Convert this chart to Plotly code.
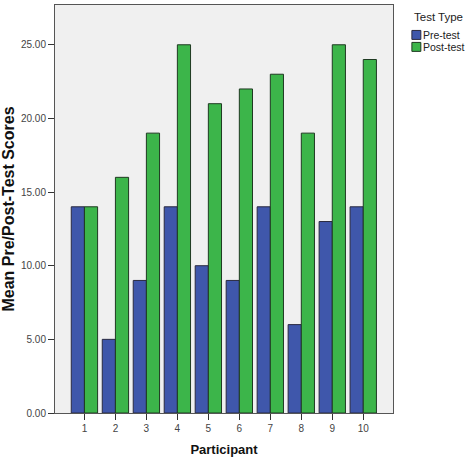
import plotly.graph_objects as go

participants = [1, 2, 3, 4, 5, 6, 7, 8, 9, 10]
pre_test = [14, 5, 9, 14, 10, 9, 14, 6, 13, 14]
post_test = [14, 16, 19, 25, 21, 22, 23, 19, 25, 24]
y_ticks = [0, 5, 10, 15, 20, 25]
series_names = ["Pre-test", "Post-test"]
series_colors = ["#3f57ab", "#3cb54a"]
outline_colors = ["#2a2a40", "#1f3a22"]
legend_title = "Test Type"

W, H = 470, 469
ML, MR, MT, MB = 53, 77, 4, 56
PW, PH = W - ML - MR, H - MT - MB

def px_x(px):
    return (px - ML) / PW

def px_y(py):
    return (H - MB - py) / PH

fig = go.Figure()
for name, vals, col, ocol in zip(series_names, [pre_test, post_test], series_colors, outline_colors):
    fig.add_trace(go.Bar(x=participants, y=vals, name=name,
                         marker=dict(color=col, line=dict(color=ocol, width=1))))

# legend drawn as swatches + text (SPSS style compact legend)
annotations = [dict(text=legend_title, x=px_x(412), y=px_y(16), xref="paper", yref="paper",
                    xanchor="left", yanchor="middle", showarrow=False,
                    font=dict(size=11.5, color="#222"))]
shapes = []
for i, (name, col, ocol) in enumerate(zip(series_names, series_colors, outline_colors)):
    cy = 34 + 12 * i
    shapes.append(dict(type="rect", xref="paper", yref="paper",
                       x0=px_x(412), x1=px_x(421), y0=px_y(cy - 4.5), y1=px_y(cy + 4.5),
                       fillcolor=col, line=dict(color=ocol, width=1)))
    annotations.append(dict(text=name, x=px_x(421.5), y=px_y(cy), xref="paper", yref="paper",
                            xanchor="left", yanchor="middle", showarrow=False,
                            font=dict(size=10.5, color="#222")))

fig.update_layout(
    width=W, height=H,
    margin=dict(l=ML, r=MR, t=MT, b=MB),
    paper_bgcolor="white", plot_bgcolor="#f0f0f0",
    barmode="group", bargap=0.15, bargroupgap=0,
    font=dict(family="Liberation Sans, Arial, sans-serif", color="#333333"),
    showlegend=False,
    annotations=annotations, shapes=shapes,
)
fig.update_xaxes(
    title=dict(text="<b>Participant</b>", font=dict(size=13, color="#111"), standoff=11),
    tickmode="array", tickvals=participants, ticktext=[str(p) for p in participants],
    range=[0.05, 10.96], ticks="outside", ticklen=6, tickcolor="#333",
    tickfont=dict(size=10, color="#444"),
    showline=True, linecolor="#555", linewidth=1, mirror=True, showgrid=False, zeroline=False,
)
fig.update_yaxes(
    title=dict(text="<b>Mean Pre/Post-Test Scores</b>", font=dict(size=16, color="#111"), standoff=6),
    tickmode="array", tickvals=y_ticks, ticktext=[f"{v:.2f}" for v in y_ticks],
    range=[0, 27.7], ticks="outside", ticklen=6, tickcolor="#333",
    tickfont=dict(size=10, color="#444"),
    showline=True, linecolor="#555", linewidth=1, mirror=True, showgrid=False, zeroline=False,
)

fig.write_html("out.html")
